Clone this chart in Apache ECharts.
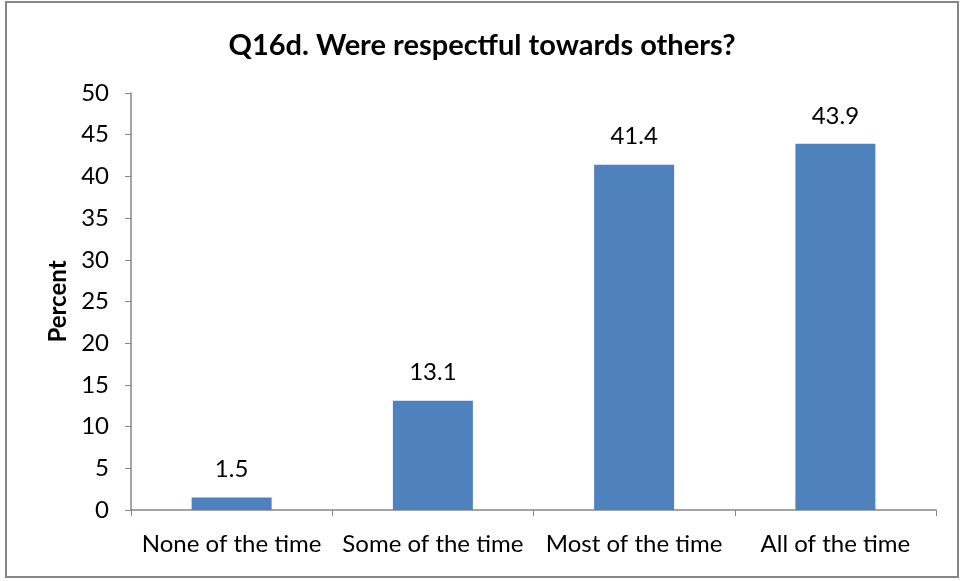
<!DOCTYPE html>
<html>
<head>
<meta charset="utf-8">
<script src="https://cdn.jsdelivr.net/npm/echarts@6/dist/echarts.min.js"></script>
<style>
  html, body { margin: 0; padding: 0; background: #fff; }
  #chart { width: 964px; height: 581px; }
</style>
</head>
<body>
<div id="chart"></div>
<script>
var categories = ['None of the time', 'Some of the time', 'Most of the time', 'All of the time'];
var percents = [1.5, 13.1, 41.4, 43.9];

var chart = echarts.init(document.getElementById('chart'));
var option = {
    animation: false,
    textStyle: { fontFamily: 'Lato' },
    title: {
        text: 'Q16d. Were respectful towards others?',
        left: 'center',
        top: 26,
        textStyle: { fontFamily: 'Lato', fontSize: 29, fontWeight: 'bold', color: '#000' }
    },
    graphic: [{
        type: 'rect',
        shape: { x: 6, y: 2, width: 952, height: 575 },
        style: { fill: 'none', stroke: '#868686', lineWidth: 2 }
    }],
    grid: { left: 131, right: 28, top: 93, bottom: 71 },
    xAxis: {
        type: 'category',
        data: categories,
        axisLine: { lineStyle: { color: '#868686', width: 1.5 } },
        axisTick: { show: true, length: 6, alignWithLabel: false, lineStyle: { color: '#868686' } },
        axisLabel: { color: '#000', fontSize: 24, margin: 22, interval: 0 }
    },
    yAxis: {
        type: 'value',
        min: 0,
        max: 50,
        interval: 5,
        name: 'Percent',
        nameLocation: 'middle',
        nameGap: 60,
        nameTextStyle: { fontFamily: 'Lato', fontSize: 24, fontWeight: 'bold', color: '#000' },
        axisLine: { show: true, lineStyle: { color: '#868686', width: 1.5 } },
        axisTick: { show: true, length: 6, lineStyle: { color: '#868686' } },
        axisLabel: { color: '#000', fontSize: 24, margin: 22 },
        splitLine: { show: false }
    },
    series: [{
        type: 'bar',
        data: percents,
        barWidth: 80,
        itemStyle: { color: '#4f81bd' },
        label: {
            show: true,
            position: 'top',
            distance: 16,
            color: '#000',
            fontSize: 24,
            formatter: function (p) { return p.value.toFixed(1); }
        }
    }]
};
chart.setOption(option);
</script>
</body>
</html>
